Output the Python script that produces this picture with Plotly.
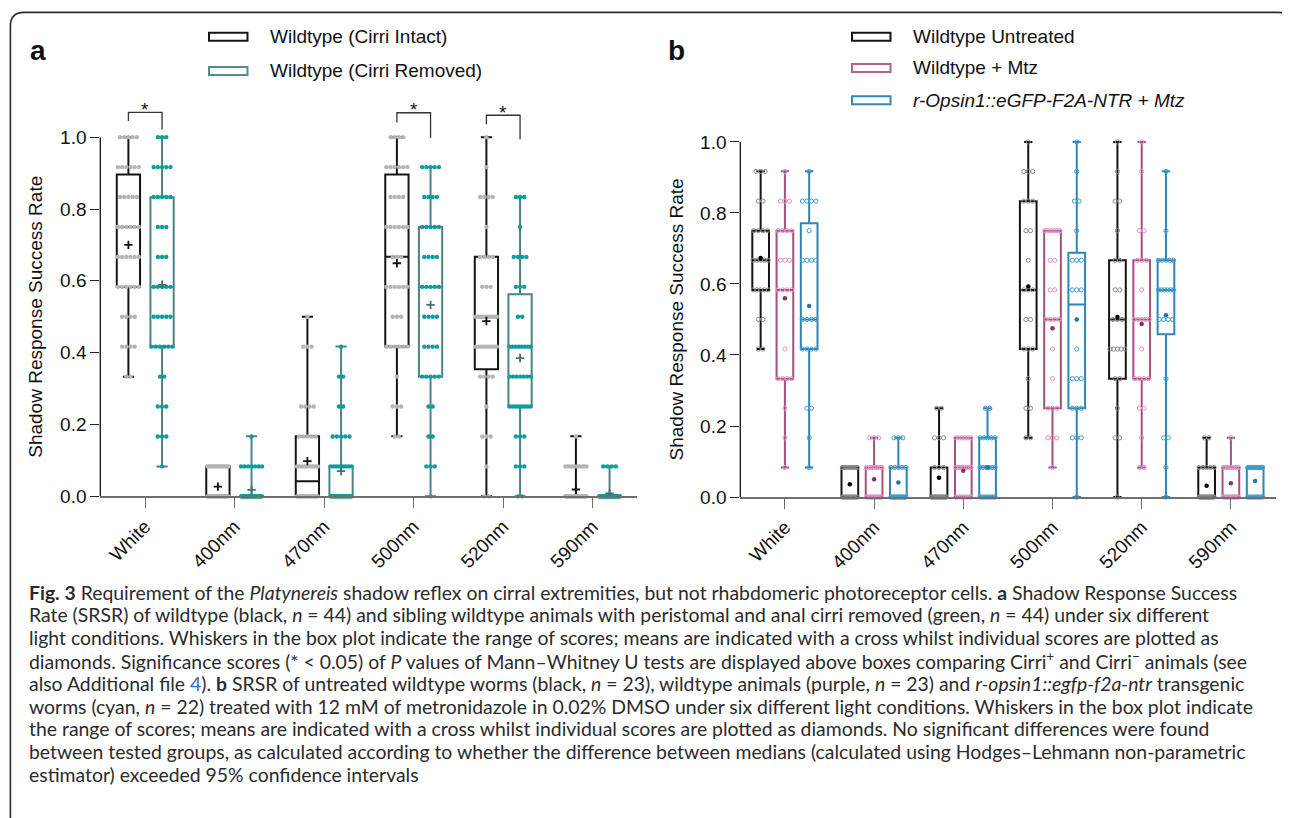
import plotly.graph_objects as go

# ---------------- data ----------------
categories = ["White", "400nm", "470nm", "500nm", "520nm", "590nm"]
# discrete score levels (k/12 successes)
score_levels = [0.0, 0.0833, 0.1667, 0.25, 0.3333, 0.4167, 0.5,
                0.5833, 0.6667, 0.75, 0.8333, 0.9167, 1.0]

# Panel a: number of animals at each score level (index = level), per category
a_intact_counts = [
    [0, 0, 0, 0, 2, 4, 4, 6, 6, 6, 5, 6, 5],
    [30, 14, 0, 0, 0, 0, 0, 0, 0, 0, 0, 0, 0],
    [22, 9, 5, 4, 0, 3, 1, 0, 0, 0, 0, 0, 0],
    [0, 0, 2, 3, 1, 6, 3, 6, 3, 6, 4, 6, 4],
    [2, 1, 3, 1, 4, 9, 10, 3, 4, 1, 4, 1, 1],
    [35, 8, 1, 0, 0, 0, 0, 0, 0, 0, 0, 0, 0],
]
a_removed_counts = [
    [0, 1, 3, 3, 2, 6, 5, 5, 3, 3, 5, 5, 3],
    [36, 7, 1, 0, 0, 0, 0, 0, 0, 0, 0, 0, 0],
    [26, 8, 5, 2, 2, 1, 0, 0, 0, 0, 0, 0, 0],
    [1, 3, 2, 2, 5, 4, 4, 5, 4, 5, 4, 5, 0],
    [2, 3, 3, 8, 7, 8, 2, 3, 4, 1, 3, 0, 0],
    [40, 4, 0, 0, 0, 0, 0, 0, 0, 0, 0, 0, 0],
]
a_intact_q1 = [0.583, 0.0, 0.0, 0.417, 0.354, 0.0]
a_intact_med = [0.75, 0.0, 0.042, 0.667, 0.5, 0.0]
a_intact_q3 = [0.896, 0.083, 0.167, 0.896, 0.667, 0.0]
a_intact_min = [0.333, 0.0, 0.0, 0.167, 0.0, 0.0]
a_intact_max = [1.0, 0.083, 0.5, 1.0, 1.0, 0.167]
a_intact_mean = [0.70, 0.027, 0.098, 0.649, 0.488, 0.019]

a_removed_q1 = [0.417, 0.0, 0.0, 0.333, 0.25, 0.0]
a_removed_med = [0.583, 0.0, 0.0, 0.583, 0.333, 0.0]
a_removed_q3 = [0.833, 0.0, 0.083, 0.75, 0.5625, 0.0]
a_removed_min = [0.083, 0.0, 0.0, 0.0, 0.0, 0.0]
a_removed_max = [1.0, 0.167, 0.417, 0.917, 0.833, 0.083]
a_removed_mean = [0.589, 0.018, 0.07, 0.533, 0.385, 0.008]

# significance brackets in panel a
sig_categories = ["White", "500nm", "520nm"]
sig_top = [1.069, 1.068, 1.061]
sig_left_end = [1.045, 1.041, 1.036]
sig_right_end = [1.021, 0.998, 0.994]
sig_label = ["*", "*", "*"]

# Panel b
b_untreated_counts = [
    [0, 0, 0, 0, 0, 2, 2, 5, 5, 4, 2, 3, 0],
    [13, 10, 0, 0, 0, 0, 0, 0, 0, 0, 0, 0, 0],
    [15, 3, 3, 2, 0, 0, 0, 0, 0, 0, 0, 0, 0],
    [0, 0, 2, 2, 1, 3, 2, 3, 1, 2, 3, 3, 1],
    [1, 0, 2, 1, 2, 5, 3, 2, 2, 1, 2, 1, 1],
    [16, 5, 2, 0, 0, 0, 0, 0, 0, 0, 0, 0, 0],
]
b_mtz_counts = [
    [0, 1, 1, 1, 4, 1, 0, 4, 3, 4, 3, 1, 0],
    [12, 8, 3, 0, 0, 0, 0, 0, 0, 0, 0, 0, 0],
    [9, 8, 6, 0, 0, 0, 0, 0, 0, 0, 0, 0, 0],
    [0, 1, 3, 3, 1, 1, 4, 2, 2, 6, 0, 0, 0],
    [0, 2, 1, 2, 4, 1, 5, 1, 3, 2, 0, 1, 1],
    [13, 9, 1, 0, 0, 0, 0, 0, 0, 0, 0, 0, 0],
]
b_ntr_counts = [
    [0, 1, 1, 2, 0, 4, 4, 0, 4, 1, 4, 1, 0],
    [14, 5, 3, 0, 0, 0, 0, 0, 0, 0, 0, 0, 0],
    [9, 6, 5, 2, 0, 0, 0, 0, 0, 0, 0, 0, 0],
    [1, 0, 3, 3, 3, 1, 0, 3, 3, 1, 2, 1, 1],
    [1, 1, 2, 0, 1, 0, 4, 6, 5, 1, 0, 1, 0],
    [10, 12, 0, 0, 0, 0, 0, 0, 0, 0, 0, 0, 0],
]
b_untreated_q1 = [0.583, 0.0, 0.0, 0.417, 0.333, 0.0]
b_untreated_med = [0.667, 0.0, 0.0, 0.583, 0.5, 0.0]
b_untreated_q3 = [0.75, 0.083, 0.083, 0.833, 0.667, 0.083]
b_untreated_min = [0.417, 0.0, 0.0, 0.167, 0.0, 0.0]
b_untreated_max = [0.917, 0.083, 0.25, 1.0, 1.0, 0.167]
b_untreated_mean = [0.673, 0.036, 0.054, 0.593, 0.507, 0.032]

b_mtz_q1 = [0.333, 0.0, 0.0, 0.25, 0.333, 0.0]
b_mtz_med = [0.583, 0.0, 0.083, 0.5, 0.5, 0.0]
b_mtz_q3 = [0.75, 0.083, 0.167, 0.75, 0.667, 0.083]
b_mtz_min = [0.083, 0.0, 0.0, 0.083, 0.083, 0.0]
b_mtz_max = [0.917, 0.167, 0.167, 0.75, 1.0, 0.167]
b_mtz_mean = [0.56, 0.05, 0.074, 0.475, 0.487, 0.039]

b_ntr_q1 = [0.417, 0.0, 0.0, 0.25, 0.458, 0.0]
b_ntr_med = [0.5, 0.0, 0.083, 0.542, 0.583, 0.083]
b_ntr_q3 = [0.771, 0.083, 0.167, 0.688, 0.667, 0.083]
b_ntr_min = [0.083, 0.0, 0.0, 0.0, 0.0, 0.0]
b_ntr_max = [0.917, 0.167, 0.25, 1.0, 0.917, 0.083]
b_ntr_mean = [0.538, 0.041, 0.083, 0.50, 0.512, 0.045]

y_ticks = [0.0, 0.2, 0.4, 0.6, 0.8, 1.0]

legend_a = ["Wildtype (Cirri Intact)", "Wildtype (Cirri Removed)"]
legend_b = ["Wildtype Untreated", "Wildtype + Mtz", "<i>r-Opsin1::eGFP-F2A-NTR + Mtz</i>"]
y_title = "Shadow Response Success Rate"

caption_lines = [
    "<b>Fig. 3</b> Requirement of the <i>Platynereis</i> shadow reflex on cirral extremities, but not rhabdomeric photoreceptor cells. <b>a</b> Shadow Response Success",
    "Rate (SRSR) of wildtype (black, <i>n</i> = 44) and sibling wildtype animals with peristomal and anal cirri removed (green, <i>n</i> = 44) under six different",
    "light conditions. Whiskers in the box plot indicate the range of scores; means are indicated with a cross whilst individual scores are plotted as",
    "diamonds. Significance scores (* &lt; 0.05) of <i>P</i> values of Mann–Whitney U tests are displayed above boxes comparing Cirri<sup>+</sup> and Cirri<sup>−</sup> animals (see",
    "also Additional file <span style='color:#2a6ebd'>4</span>). <b>b</b> SRSR of untreated wildtype worms (black, <i>n</i> = 23), wildtype animals (purple, <i>n</i> = 23) and <i>r-opsin1::egfp-f2a-ntr</i> transgenic",
    "worms (cyan, <i>n</i> = 22) treated with 12 mM of metronidazole in 0.02% DMSO under six different light conditions. Whiskers in the box plot indicate",
    "the range of scores; means are indicated with a cross whilst individual scores are plotted as diamonds. No significant differences were found",
    "between tested groups, as calculated according to whether the difference between medians (calculated using Hodges–Lehmann non-parametric",
    "estimator) exceeded 95% confidence intervals",
]

# ---------------- layout geometry (target picture pixels) ----------------
PAGE_W, PAGE_H = 1290, 818
OFF = 8                      # default page margin around the plot div
SY = 0.986                   # vertical scale of the captured picture
W = PAGE_W - 2 * OFF
H = 812
YMAX = 1.1


def px(x):
    return (x - OFF) / W


def py(y):
    return 1 - (y / SY - OFF) / H


PA = dict(left=100.3, right=637.3, y0=496.0, y1=137.0)
PB = dict(left=740.3, right=1275.5, y0=496.7, y1=141.7)


def ydomain(p):
    top = p["y1"] - (YMAX - 1) * (p["y0"] - p["y1"])
    return [py(p["y0"]), py(top)]


ARIAL = "Liberation Sans, Arial, sans-serif"
CAP_FONT = "Lato, 'Open Sans', sans-serif"

fig = go.Figure()


def swarm(counts, offset, spacing, maxspan):
    xs, ys = [], []
    for ci, row in enumerate(counts):
        for li, c in enumerate(row):
            if c <= 0:
                continue
            span = min((c - 1) * spacing, maxspan)
            for k in range(c):
                dx = 0 if c == 1 else -span / 2 + span * k / (c - 1)
                xs.append(ci + offset + dx)
                ys.append(score_levels[li])
    return xs, ys


def add_group(counts, q1, med, q3, lo, hi, offset, bw, ax, color,
              dotcolor, dotsym, dotsize, dotline, spacing, maxspan, whiskerw):
    xa, ya = ("x", "y") if ax == 1 else ("x2", "y2")
    pos = [i + offset for i in range(len(categories))]
    fig.add_trace(go.Box(
        x=pos, q1=q1, median=med, q3=q3, lowerfence=lo, upperfence=hi,
        orientation="v", width=bw, whiskerwidth=whiskerw, boxpoints=False,
        line=dict(color=color, width=2), fillcolor="rgba(0,0,0,0)",
        xaxis=xa, yaxis=ya, showlegend=False, hoverinfo="skip"))
    xs, ys = swarm(counts, offset, spacing, maxspan)
    fig.add_trace(go.Scatter(
        x=xs, y=ys, mode="markers", cliponaxis=False, xaxis=xa, yaxis=ya,
        marker=dict(symbol=dotsym, size=dotsize, color=dotcolor,
                    line=dict(width=dotline, color=dotcolor)),
        showlegend=False, hoverinfo="skip"))
    return pos


# Panel a
pxa = W * (px(PA["right"]) - px(PA["left"])) / 6.0
pos_a1 = add_group(a_intact_counts, a_intact_q1, a_intact_med, a_intact_q3,
                   a_intact_min, a_intact_max, -0.186, 0.26, 1,
                   "#141414", "#b4b4b4", "circle", 4.4, 0, 4.2 / pxa, 21 / pxa, 0.48)
pos_a2 = add_group(a_removed_counts, a_removed_q1, a_removed_med, a_removed_q3,
                   a_removed_min, a_removed_max, 0.19, 0.26, 1,
                   "#4b8385", "#0e9c9c", "circle", 4.4, 0, 4.2 / pxa, 21 / pxa, 0.48)
fig.add_trace(go.Scatter(x=pos_a1, y=a_intact_mean, mode="markers", cliponaxis=False,
                         marker=dict(symbol="cross-thin", size=6, line=dict(width=1.8, color="#111111")),
                         xaxis="x", yaxis="y", showlegend=False, hoverinfo="skip"))
fig.add_trace(go.Scatter(x=pos_a2, y=a_removed_mean, mode="markers", cliponaxis=False,
                         marker=dict(symbol="cross-thin", size=6, line=dict(width=1.8, color="#45706f")),
                         xaxis="x", yaxis="y", showlegend=False, hoverinfo="skip"))

# Panel b
pxb = W * (px(PB["right"]) - px(PB["left"])) / 6.0
pos_b1 = add_group(b_untreated_counts, b_untreated_q1, b_untreated_med, b_untreated_q3,
                   b_untreated_min, b_untreated_max, -0.272, 0.187, 2,
                   "#141414", "#8a8a8a", "circle-open", 4.2, 1, 4.5 / pxb, 15 / pxb, 0.5)
pos_b2 = add_group(b_mtz_counts, b_mtz_q1, b_mtz_med, b_mtz_q3,
                   b_mtz_min, b_mtz_max, 0.0, 0.187, 2,
                   "#a3517e", "#e690c8", "circle-open", 4.2, 1, 4.5 / pxb, 15 / pxb, 0.5)
pos_b3 = add_group(b_ntr_counts, b_ntr_q1, b_ntr_med, b_ntr_q3,
                   b_ntr_min, b_ntr_max, 0.272, 0.187, 2,
                   "#2c86b6", "#3f9fd2", "circle-open", 4.2, 1, 4.5 / pxb, 15 / pxb, 0.5)
for pos, mean, col in [(pos_b1, b_untreated_mean, "#000000"),
                       (pos_b2, b_mtz_mean, "#8c2f61"),
                       (pos_b3, b_ntr_mean, "#1f77a9")]:
    fig.add_trace(go.Scatter(x=pos, y=mean, mode="markers", cliponaxis=False,
                             marker=dict(symbol="circle", size=4.5, color=col),
                             xaxis="x2", yaxis="y2", showlegend=False, hoverinfo="skip"))

shapes = []
annotations = []

# significance brackets
for cat, top, le, re_, lab in zip(sig_categories, sig_top, sig_left_end, sig_right_end, sig_label):
    i = categories.index(cat)
    xl, xr = i - 0.186, i + 0.19
    path = f"M {xl},{le} L {xl},{top} L {xr},{top} L {xr},{re_}"
    shapes.append(dict(type="path", xref="x", yref="y", path=path,
                       line=dict(color="#333333", width=1.3)))
    annotations.append(dict(x=i, y=top, xref="x", yref="y", text=lab, showarrow=False,
                            xanchor="center", yanchor="middle", yshift=3,
                            font=dict(family=ARIAL, size=19, color="#111111")))

# y-axis lines (0..1 only)
for p, yr in [(PA, "y"), (PB, "y2")]:
    shapes.append(dict(type="line", xref="paper", yref=yr, x0=px(p["left"]), x1=px(p["left"]),
                       y0=0, y1=1, line=dict(color="#222222", width=1.4)))

# y-axis titles
for xc, p in [(36, PA), (676, PB)]:
    annotations.append(dict(x=px(xc), y=py((p["y0"] + p["y1"]) / 2), xref="paper", yref="paper",
                            text=y_title, textangle=-90, showarrow=False,
                            xanchor="center", yanchor="middle",
                            font=dict(family=ARIAL, size=19, color="#111111")))

# panel letters
annotations.append(dict(x=px(28), y=py(61), xref="paper", yref="paper", text="<b>a</b>",
                        showarrow=False, xanchor="left", yanchor="bottom", yshift=-7,
                        font=dict(family=ARIAL, size=28, color="#111111")))
annotations.append(dict(x=px(666), y=py(61), xref="paper", yref="paper", text="<b>b</b>",
                        showarrow=False, xanchor="left", yanchor="bottom", yshift=-7,
                        font=dict(family=ARIAL, size=28, color="#111111")))

# legends
leg_a_colors = ["#141414", "#4f8c8c"]
leg_a_y = [36.7, 70.8]
for lab, col, yc in zip(legend_a, leg_a_colors, leg_a_y):
    shapes.append(dict(type="rect", xref="paper", yref="paper", x0=px(209), x1=px(247.5),
                       y0=py(yc + 4), y1=py(yc - 4), line=dict(color=col, width=2),
                       fillcolor="rgba(0,0,0,0)"))
    annotations.append(dict(x=px(268), y=py(yc), xref="paper", yref="paper", text=lab,
                            showarrow=False, xanchor="left", yanchor="middle",
                            font=dict(family=ARIAL, size=19, color="#111111")))
leg_b_colors = ["#141414", "#b0648f", "#3389bb"]
leg_b_y = [36.7, 67.8, 100.0]
for lab, col, yc in zip(legend_b, leg_b_colors, leg_b_y):
    shapes.append(dict(type="rect", xref="paper", yref="paper", x0=px(852), x1=px(890.5),
                       y0=py(yc + 4), y1=py(yc - 4), line=dict(color=col, width=2),
                       fillcolor="rgba(0,0,0,0)"))
    annotations.append(dict(x=px(911), y=py(yc), xref="paper", yref="paper", text=lab,
                            showarrow=False, xanchor="left", yanchor="middle",
                            font=dict(family=ARIAL, size=19, color="#111111")))

# caption
cap_y0, cap_dy = 591.7, 22.8
for k, line in enumerate(caption_lines):
    annotations.append(dict(x=px(26.5), y=py(cap_y0 + k * cap_dy), xref="paper", yref="paper",
                            text=line, showarrow=False, xanchor="left", yanchor="middle",
                            font=dict(family=CAP_FONT, size=19.4, color="#2b2b2b")))

# frame
frame = (f"M {px(10.4)},{py(840)} L {px(10.4)},{py(26)} "
         f"Q {px(10.4)},{py(12.3)} {px(24)},{py(12.3)} "
         f"L {px(1278)},{py(12.3)} Q {px(1289)},{py(12.3)} {px(1290)},{py(18)}")
shapes.append(dict(type="path", xref="paper", yref="paper", path=frame,
                   line=dict(color="#2b2b2b", width=1.6)))

xcommon = dict(range=[-0.5, 5.5], tickvals=list(range(len(categories))), ticktext=categories,
               tickangle=-45, showgrid=False, zeroline=False, showline=True,
               linecolor="#6f6f6f", linewidth=1.6, ticks="outside", ticklen=10,
               tickwidth=1.4, tickcolor="#6f6f6f",
               tickfont=dict(family=ARIAL, size=19, color="#111111"), fixedrange=True)
ycommon = dict(range=[0, YMAX], tickvals=y_ticks, tickformat=".1f", showgrid=False,
               zeroline=False, showline=False, ticks="outside", ticklen=9, tickwidth=1.4,
               tickcolor="#222222", tickfont=dict(family=ARIAL, size=19, color="#111111"),
               fixedrange=True)

fig.update_layout(
    width=W, height=H, margin=dict(l=0, r=0, t=0, b=0),
    paper_bgcolor="white", plot_bgcolor="white", boxmode="overlay",
    xaxis=dict(domain=[px(PA["left"]), px(PA["right"])], anchor="y", **xcommon),
    yaxis=dict(domain=ydomain(PA), anchor="x", **ycommon),
    xaxis2=dict(domain=[px(PB["left"]), px(PB["right"])], anchor="y2", **xcommon),
    yaxis2=dict(domain=ydomain(PB), anchor="x2", **ycommon),
    shapes=shapes, annotations=annotations, showlegend=False,
)

fig.write_html("out.html")
